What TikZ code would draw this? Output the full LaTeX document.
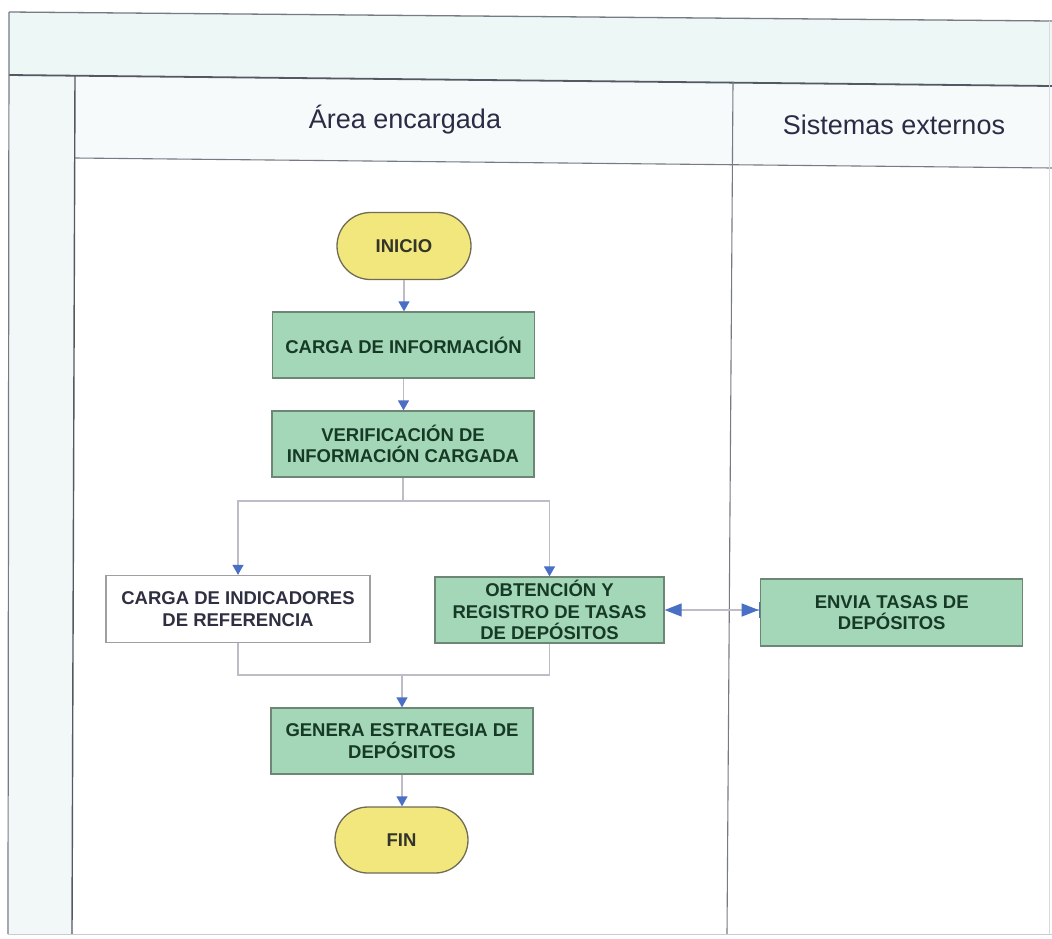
\documentclass[tikz,border=0pt]{standalone}
\usepackage{fontspec}
\setmainfont{Liberation Sans}
\usetikzlibrary{arrows.meta,shapes.misc}

\definecolor{framedark}{HTML}{545862}
\definecolor{framemid}{HTML}{767A84}
\definecolor{framelight}{HTML}{CACBD0}
\definecolor{greenfill}{HTML}{A3D7B7}
\definecolor{greenedge}{HTML}{6E8676}
\definecolor{greentext}{HTML}{173A27}
\definecolor{yellowfill}{HTML}{F2E77C}
\definecolor{yellowedge}{HTML}{6F6B55}
\definecolor{yellowtext}{HTML}{33342A}
\definecolor{arrowblue}{HTML}{4A70C6}
\definecolor{linegray}{HTML}{BCBDC7}
\definecolor{headtext}{HTML}{2B2B45}
\definecolor{plaintext}{HTML}{2E3042}
\definecolor{tintband}{HTML}{EDF7F5}
\definecolor{tintcol}{HTML}{F1F8F7}
\definecolor{tinthead}{HTML}{F6FAFA}

\tikzset{
  boxfont/.style={font=\fontsize{18.5}{21.5}\selectfont\bfseries},
  task/.style={rectangle, draw=greenedge, fill=greenfill, line width=1.3pt,
    minimum width=262pt, minimum height=66pt, inner sep=0pt, align=center,
    boxfont, text=greentext},
  plainbox/.style={task, fill=white, draw=gray!75, text=plaintext},
  terminal/.style={rounded rectangle, draw=yellowedge, fill=yellowfill,
    line width=1.3pt, minimum width=134pt, minimum height=67pt, inner sep=0pt,
    boxfont, text=yellowtext},
  lanetitle/.style={font=\fontsize{27}{32}\selectfont, text=headtext},
  bluetip/.tip={Triangle[width=11pt,length=10pt,color=arrowblue]},
  widetip/.tip={Triangle[width=13pt,length=17pt,color=arrowblue]},
  link/.style={draw=linegray, line width=1.3pt},
  flow/.style={link, -bluetip},
}

\begin{document}
\begin{tikzpicture}[x=1pt,y=-1pt]
\useasboundingbox (0,0) rectangle (1052,938);
\fill[white] (0,0) rectangle (1052,938);

% pale tint of the title band, the left column and the lane headers
\fill[tintband] (9,12) -- (1052,21) -- (1052,86) -- (9,75) -- cycle;
\fill[tintcol] (9,75) -- (75,76) -- (72,934) -- (9,934) -- cycle;
\fill[tinthead] (75,76) -- (1052,86) -- (1052,168) -- (75,158) -- cycle;

% pool frame and lane lines
\draw[framemid, line width=1.3pt] (9,12) -- (1052,21);
\draw[framedark, line width=1.8pt] (9,75) -- (1052,86);
\draw[framemid, line width=1.2pt] (9,12) -- (8,934);
\draw[framedark, line width=1.4pt] (75,76) -- (72,934);
\draw[framemid, line width=1.1pt] (75,158) -- (1052,168);
\draw[framemid, line width=1.1pt] (733,82) -- (727,934);
\draw[framelight, line width=0.9pt] (8,934) -- (1052,934);
\draw[framelight!70, line width=0.8pt] (1049,21) -- (1049,934);

% lane titles
\node[lanetitle] (laneA) at (405,120) {Área encargada};
\node[lanetitle] (laneB) at (894,125) {Sistemas externos};

% process steps
\node[terminal] (inicio) at (404,246) {INICIO};
\node[task] (carga) at (403.5,345) {CARGA DE INFORMACIÓN};
\node[task] (verif) at (403,444) {VERIFICACIÓN DE\\INFORMACIÓN CARGADA};
\node[plainbox, minimum width=264pt, minimum height=67pt] (indic) at (238,609)
  {CARGA DE INDICADORES\\DE REFERENCIA};
\node[task, minimum width=229pt] (obten) at (549.5,610)
  {OBTENCIÓN Y\\REGISTRO DE TASAS\\DE DEPÓSITOS};
\node[task, minimum height=67pt] (envia) at (891.7,612.5) {ENVIA TASAS DE\\DEPÓSITOS};
\node[task] (genera) at (402,741) {GENERA ESTRATEGIA DE\\DEPÓSITOS};
\node[terminal, minimum width=133pt, minimum height=66pt] (fin) at (401.5,840) {FIN};

% branch and join points
\coordinate (split) at (403,501);
\coordinate (merge) at (402,675);

% connectors
\draw[flow] (inicio.south) -- (inicio.south |- carga.north);
\draw[flow] (carga.south) -- (carga.south |- verif.north);
\draw[link] (verif.south) -- (split);
\draw[flow] (split) -| (indic.north);
\draw[flow] (split) -| (obten.north);
\draw[link] (indic.south) |- (merge);
\draw[link] (obten.south) |- (merge);
\draw[flow] (merge) -- (genera.north);
\draw[flow] (genera.south) -- (genera.south |- fin.north);
\draw[link, widetip-{Triangle[width=13pt,length=17pt,color=arrowblue,sep=0pt]Bar[width=16pt,line width=1.4pt,color=arrowblue]}]
  (obten.east) -- (obten.east -| envia.west);
\end{tikzpicture}
\end{document}
